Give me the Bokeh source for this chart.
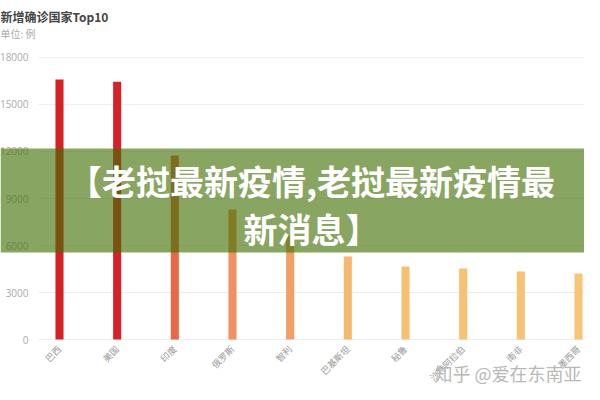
from bokeh.plotting import figure
from bokeh.models import Range1d, FixedTicker, BoxAnnotation, Label
from bokeh.embed import file_html
from bokeh.resources import INLINE

countries = ["巴西", "美国", "印度", "俄罗斯", "智利", "巴基斯坦", "秘鲁", "沙特阿拉伯", "南非", "墨西哥"]
new_cases = [16600, 16450, 11750, 8300, 6650, 5300, 4660, 4530, 4340, 4210]
bar_colors = ["#d42027", "#d42228", "#e8694a", "#ef9160", "#f0a065",
              "#f5b870", "#f6c070", "#f6c173", "#f6c273", "#f7c575"]
y_ticks = [0, 3000, 6000, 9000, 12000, 15000, 18000]
title_text = "新增确诊国家Top10"
subtitle_text = "单位: 例"
overlay_text = "【老挝最新疫情,老挝最新疫情最\n新消息】"
watermark_text = "知乎 @爱在东南亚"

xs = list(range(len(countries)))
CJK = "Noto Sans CJK SC"

# the frame fills the canvas; both axes are pinned inside it
p = figure(width=584, height=384, output_backend="svg", toolbar_location=None,
           x_range=Range1d(-1.023, 9.104), y_range=Range1d(-2872, 21638),
           min_border=0, title=None)
p.background_fill_color = "white"
p.border_fill_color = "white"
p.outline_line_color = None

p.vbar(x=xs, top=new_cases, width=0.14, bottom=0, color=bar_colors, line_color=None)

p.xaxis.fixed_location = 0
p.xaxis.ticker = FixedTicker(ticks=xs)
p.xaxis.major_label_overrides = {i: c for i, c in zip(xs, countries)}
p.xaxis.major_label_orientation = 0.785398
p.xaxis.major_label_text_font = CJK
p.xaxis.major_label_text_font_size = "9px"
p.xaxis.major_label_text_color = "#999999"
p.xaxis.axis_line_color = None
p.xaxis.major_tick_line_color = None
p.xaxis.minor_tick_line_color = None
p.xaxis.major_label_standoff = 2

p.yaxis.fixed_location = -0.364
p.yaxis.ticker = FixedTicker(ticks=y_ticks)
p.yaxis.major_label_text_font = "Open Sans"
p.yaxis.major_label_text_font_size = "10px"
p.yaxis.major_label_text_color = "#aaaaaa"
p.yaxis.axis_line_color = None
p.yaxis.major_tick_line_color = None
p.yaxis.minor_tick_line_color = None
p.yaxis.major_label_standoff = 4

p.xgrid.grid_line_color = None
p.ygrid.grid_line_color = "#eeeeee"
p.ygrid.grid_line_width = 1
p.ygrid.cross_bounds = (-0.364, 9.104)

band = BoxAnnotation(bottom=5553, top=12191, fill_color="#3f6f02", fill_alpha=0.62,
                     line_color=None, level="annotation")
p.add_layout(band)

p.add_layout(Label(x=311, y=204, x_units="canvas", y_units="canvas", text=overlay_text,
                   text_font=CJK, text_font_size="34px", text_font_style="bold",
                   text_color="white", text_align="center", text_baseline="middle",
                   text_line_height=0.98, level="overlay"))

p.add_layout(Label(x=0, y=16, x_units="canvas", y_units="canvas", text=title_text,
                   text_font=CJK, text_font_size="12px", text_font_style="bold",
                   text_color="#444444", text_align="left", text_baseline="middle",
                   level="overlay"))

p.add_layout(Label(x=0, y=33, x_units="canvas", y_units="canvas", text=subtitle_text,
                   text_font=CJK, text_font_size="10px", text_color="#aaaaaa",
                   text_align="left", text_baseline="middle", level="overlay"))

p.add_layout(Label(x=434, y=372, x_units="canvas", y_units="canvas", text=watermark_text,
                   text_font=CJK, text_font_size="18px", text_color="#b8b8b8",
                   text_align="left", text_baseline="middle", level="overlay"))

open("out.html", "w").write(file_html(p, INLINE))
